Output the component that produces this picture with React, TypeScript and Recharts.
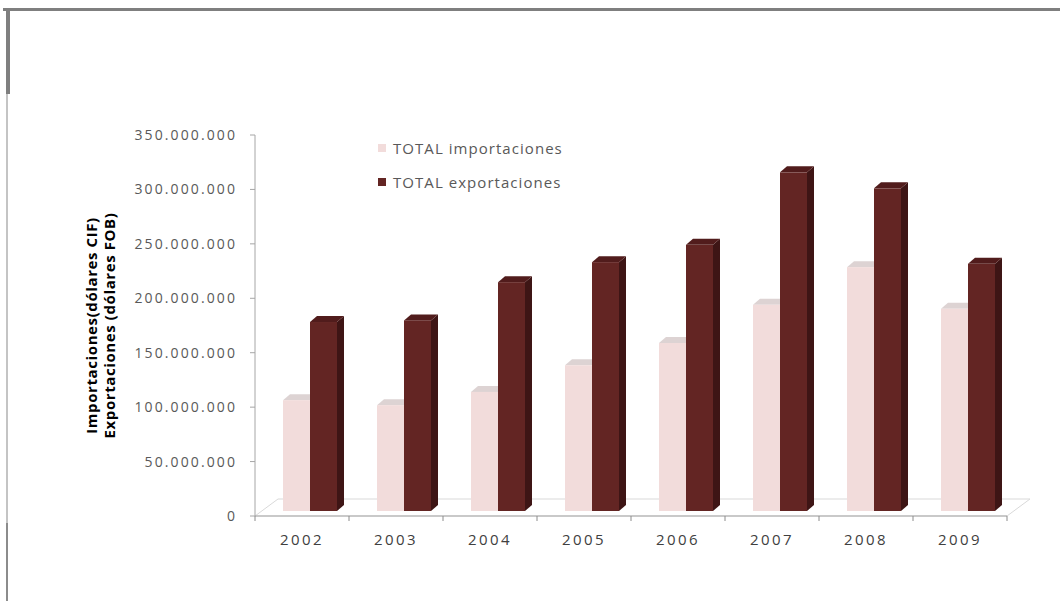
import React from 'react'
import {
  BarChart,
  Bar,
  XAxis,
  YAxis,
  Legend,
} from 'recharts'

const years = ['2002', '2003', '2004', '2005', '2006', '2007', '2008', '2009']
const importaciones = [106400000, 101800000, 114000000, 138500000, 158900000, 194100000, 228600000, 190400000]
const exportaciones = [178200000, 179700000, 214800000, 233200000, 249100000, 315700000, 301000000, 231700000]
const yTicks = [0, 50000000, 100000000, 150000000, 200000000, 250000000, 300000000, 350000000]
const seriesNames = ['TOTAL importaciones', 'TOTAL exportaciones']

const data = years.map((year, i) => ({
  year,
  imp: importaciones[i],
  exp: exportaciones[i],
}))

// layout
const W = 1060
const H = 601
const PLOT_LEFT = 255
const PLOT_RIGHT = 1007
const PLOT_TOP = 135
const PLOT_BOTTOM = 516
const BAND = (PLOT_RIGHT - PLOT_LEFT) / years.length

// fake 3d
const SHIFT = 8
const SINK = 5
const DX = 7
const DY = 6
const FLOOR_DX = 23
const FLOOR_DY = 17

const IMP_FRONT = '#f2dcdb'
const IMP_TOP = '#ddd3d3'
const EXP_FRONT = '#632523'
const EXP_SIDE = '#3e1515'
const EXP_TOP = '#511c1c'

const FONT = '"Open Sans", "Liberation Sans", sans-serif'

const fmt = (v: number) => String(v).replace(/\B(?=(\d{3})+(?!\d))/g, '.')

const makeBar = (front: string, top: string, side: string) => (props: any) => {
  const { x, y, width, height } = props
  const fx = x + SHIFT
  const bottom = y + height - SINK
  const r = fx + width
  return (
    <g>
      <polygon points={`${r},${y} ${r + DX},${y - DY} ${r + DX},${bottom - DY} ${r},${bottom}`} fill={side} />
      <polygon points={`${fx},${y} ${r},${y} ${r + DX},${y - DY} ${fx + DX},${y - DY}`} fill={top} />
      <rect x={fx} y={y} width={width} height={bottom - y} fill={front} />
    </g>
  )
}

// floor plane drawn behind the chart
const Floor = () => (
  <svg width={W} height={H} style={{ position: 'absolute', left: 0, top: 0 }}>
    <polygon
      points={`${PLOT_LEFT},${PLOT_BOTTOM} ${PLOT_RIGHT},${PLOT_BOTTOM} ${PLOT_RIGHT + FLOOR_DX},${PLOT_BOTTOM - FLOOR_DY} ${PLOT_LEFT + FLOOR_DX},${PLOT_BOTTOM - FLOOR_DY}`}
      fill="#ffffff"
      stroke="#d9d9d9"
      strokeWidth={1}
    />
  </svg>
)

const YearTick = (props: any) => {
  const { x, payload, index } = props
  const left = x - BAND / 2
  return (
    <g>
      <line x1={left} y1={PLOT_BOTTOM} x2={left} y2={PLOT_BOTTOM + 5} stroke="#8c8c8c" />
      {index === years.length - 1 && (
        <line x1={x + BAND / 2} y1={PLOT_BOTTOM} x2={x + BAND / 2} y2={PLOT_BOTTOM + 5} stroke="#8c8c8c" />
      )}
      <text x={x} y={PLOT_BOTTOM + 29} textAnchor="middle" fontSize={15} letterSpacing={2.4} fontFamily={FONT} fill="#404040">
        {payload.value}
      </text>
    </g>
  )
}

const AxisTitle = ({ viewBox }: any) => {
  const px = viewBox.x + 97
  const cy = PLOT_TOP + (PLOT_BOTTOM - PLOT_TOP) / 2
  return (
    <text
      transform={`rotate(-90, ${px}, ${cy})`}
      x={px}
      y={cy}
      textAnchor="middle"
      fontSize={15}
      fontWeight="bold"
      letterSpacing={0.6}
      fontFamily={FONT}
      fill="#000000"
    >
      <tspan x={px} dy={0}>Importaciones(dólares CIF)</tspan>
      <tspan x={px} dy={18}>Exportaciones (dólares FOB)</tspan>
    </text>
  )
}

const LegendBox = ({ payload }: any) => {
  const items = [...(payload || [])].sort(
    (a: any, b: any) => seriesNames.indexOf(a.value) - seriesNames.indexOf(b.value),
  )
  return (
    <div>
      {items.map((p: any) => (
        <div
          key={p.value}
          style={{ display: 'flex', alignItems: 'center', height: 34, fontFamily: FONT, fontSize: 15, color: '#595959', letterSpacing: 1.05 }}
        >
          <span style={{ display: 'inline-block', width: 8, height: 8, background: p.color, marginRight: 7 }} />
          {p.value}
        </div>
      ))}
    </div>
  )
}

export default function App() {
  return (
    <div style={{ position: 'relative', width: W, height: H, background: '#ffffff', overflow: 'hidden' }}>
      <style>{'body{margin:0}'}</style>
      {/* frame */}
      <div style={{ position: 'absolute', left: 3, top: 8, width: W, height: 3, background: '#7f7f7f' }} />
      <div style={{ position: 'absolute', left: 6, top: 8, width: 4, height: 86, background: '#7f7f7f' }} />
      <div style={{ position: 'absolute', left: 6, top: 94, width: 2, height: 429, background: '#c4c4c4' }} />
      <div style={{ position: 'absolute', left: 6, top: 523, width: 2, height: 78, background: '#8c8c8c' }} />
      <Floor />
      <div style={{ position: 'absolute', left: 0, top: 0 }}>
        <BarChart
          width={W}
          height={H}
          data={data}
          margin={{ top: PLOT_TOP, right: W - PLOT_RIGHT, bottom: 0, left: 0 }}
          barGap={0}
          barSize={27}
        >
          <XAxis
            dataKey="year"
            axisLine={{ stroke: '#a6a6a6' }}
            tickLine={false}
            tick={<YearTick />}
            interval={0}
            height={H - PLOT_BOTTOM}
          />
          <YAxis
            width={PLOT_LEFT}
            domain={[0, 350000000]}
            ticks={yTicks}
            tickFormatter={fmt}
            axisLine={{ stroke: '#a6a6a6' }}
            tickLine={{ stroke: '#a6a6a6' }}
            tickSize={5}
            tickMargin={13}
            tick={{ fontSize: 14, fontFamily: FONT, fill: '#595959', letterSpacing: 2.1 }}
            label={{ content: <AxisTitle /> }}
          />
          <Legend
            layout="vertical"
            align="center"
            verticalAlign="middle"
            wrapperStyle={{ position: 'absolute', left: 378, top: 131, width: 260 }}
            content={<LegendBox />}
          />
          <Bar dataKey="imp" name={seriesNames[0]} fill={IMP_FRONT} shape={makeBar(IMP_FRONT, IMP_TOP, IMP_FRONT)} isAnimationActive={false} />
          <Bar dataKey="exp" name={seriesNames[1]} fill={EXP_FRONT} shape={makeBar(EXP_FRONT, EXP_TOP, EXP_SIDE)} isAnimationActive={false} />
        </BarChart>
      </div>
    </div>
  )
}
